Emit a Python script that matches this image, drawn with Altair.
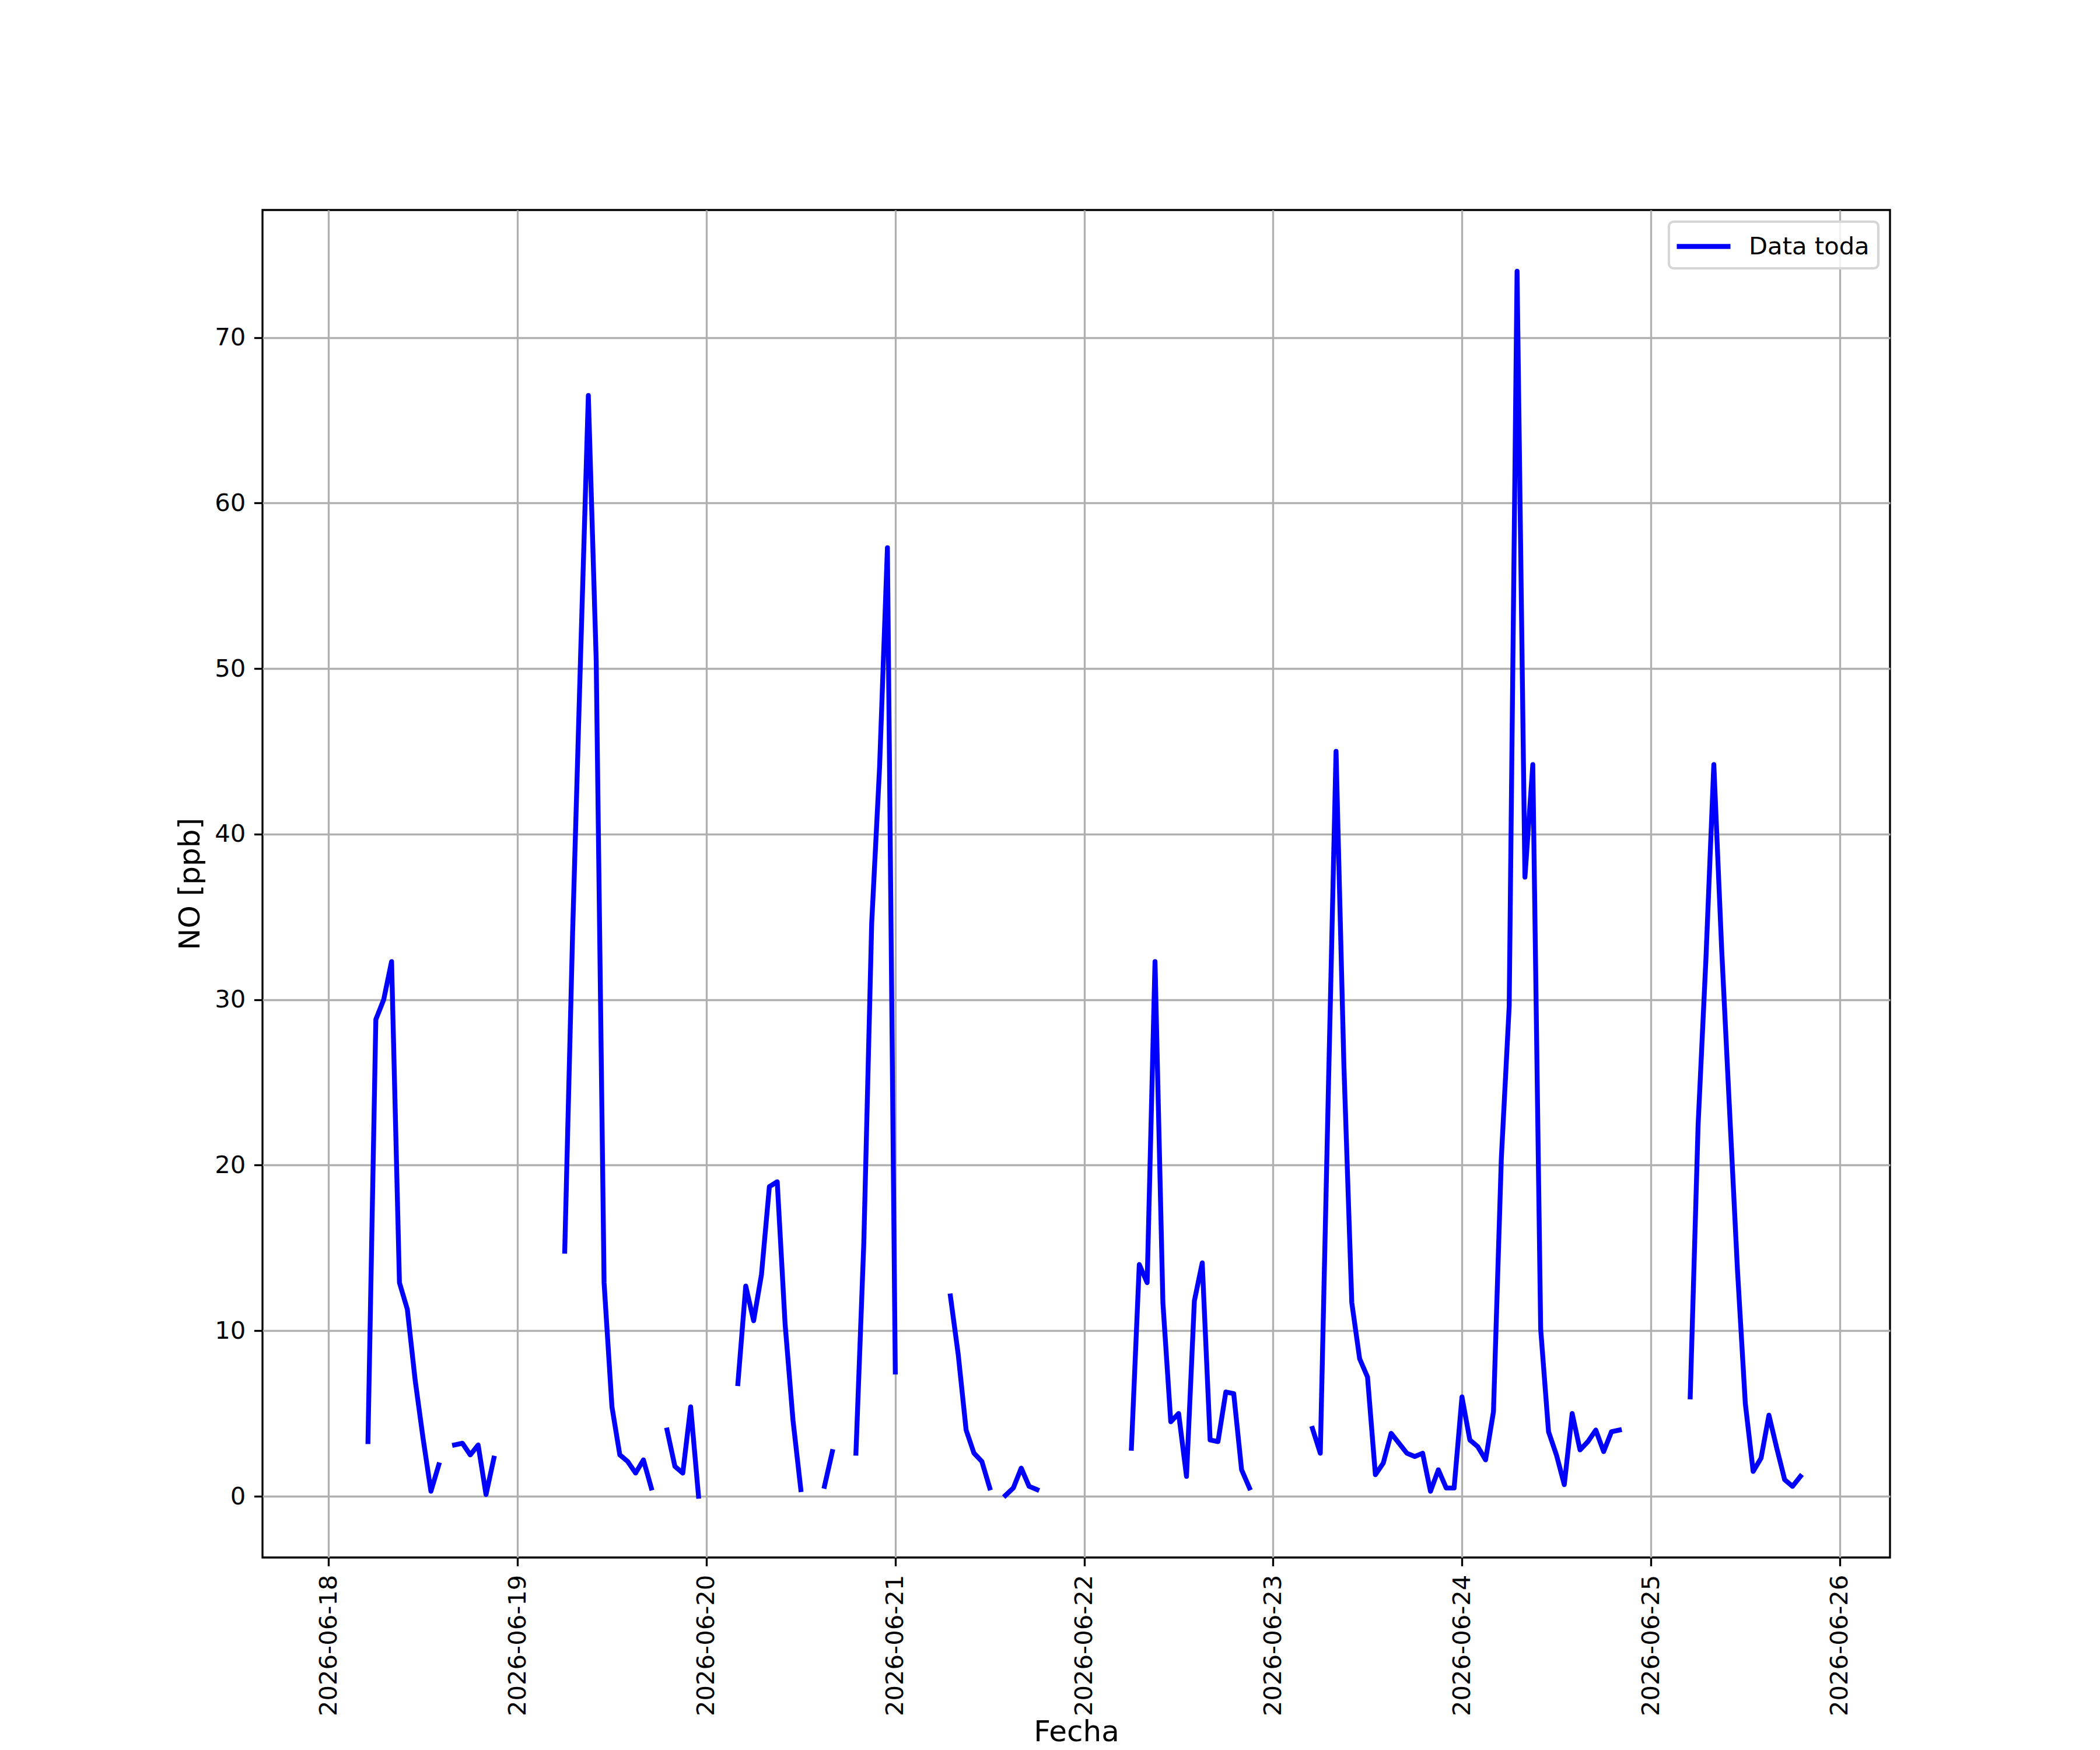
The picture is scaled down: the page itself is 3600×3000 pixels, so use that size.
import altair as alt
import pandas as pd

N = None

# Hourly NO values [ppb], 00h..23h for each day (None = missing)
dias = ["2026-06-18", "2026-06-19", "2026-06-20", "2026-06-21",
        "2026-06-22", "2026-06-23", "2026-06-24", "2026-06-25"]

no_0618 = [N, N, N, N, N, 3.3, 28.8, 30.0, 32.3, 12.9, 11.3, 7.0,
           3.5, 0.3, 1.9, N, 3.1, 3.2, 2.5, 3.1, 0.1, 2.3, N, N]
no_0619 = [N, N, N, N, N, N, 14.8, 34.0, 50.5, 66.5, 50.5, 12.9,
           5.4, 2.5, 2.1, 1.4, 2.2, 0.5, N, 4.0, 1.8, 1.4, 5.4, 0.0]
no_0620 = [N, N, N, N, 6.8, 12.7, 10.6, 13.4, 18.7, 19.0, 10.4, 4.6,
           0.4, N, N, 0.6, 2.7, N, N, 2.6, 15.3, 34.6, 44.0, 57.3]
no_0621 = [7.5, N, N, N, N, N, N, 12.1, 8.55, 4.0, 2.6, 2.1,
           0.5, N, 0.05, 0.5, 1.7, 0.6, 0.4, N, N, N, N, N]
no_0622 = [N, N, N, N, N, N, 2.9, 14.0, 12.9, 32.3, 11.7, 4.5,
           5.0, 1.2, 11.8, 14.1, 3.4, 3.3, 6.3, 6.2, 1.6, 0.5, N, N]
no_0623 = [N, N, N, N, N, 4.1, 2.6, 24.0, 45.0, 26.0, 11.7, 8.3,
           7.2, 1.3, 2.0, 3.8, 3.2, 2.6, 2.4, 2.6, 0.3, 1.6, 0.5, 0.5]
no_0624 = [6.0, 3.4, 3.0, 2.2, 5.1, 20.4, 29.6, 74.0, 37.4, 44.2, 10.1, 3.9,
           2.5, 0.7, 5.0, 2.8, 3.3, 4.0, 2.7, 3.9, 4.0, N, N, N]
no_0625 = [N, N, N, N, N, 6.0, 22.4, 32.5, 44.2, 33.0, 23.3, 13.7,
           5.6, 1.5, 2.3, 4.9, 2.9, 1.0, 0.6, 1.2, N, N, N, N]

serie_nombre = "Data toda"
y_ticks = [0, 10, 20, 30, 40, 50, 60, 70]
x_tick_dias = [18, 19, 20, 21, 22, 23, 24, 25, 26]

valores = (no_0618 + no_0619 + no_0620 + no_0621 +
           no_0622 + no_0623 + no_0624 + no_0625)
tiempos = pd.date_range(dias[0], periods=len(valores), freq="h")

# break the line at missing values (like matplotlib NaN gaps)
rows = []
seg = 0
for t, v in zip(tiempos, valores):
    if v is None:
        seg += 1
        continue
    rows.append({"Fecha": t.strftime("%Y-%m-%dT%H:%M:%S"), "NO": v,
                 "seg": seg, "serie": serie_nombre})
df = pd.DataFrame(rows)

FS = 41.7
FS_TITLE = 50
LW = 3.33
LINE_W = 8.33

x_enc = alt.X(
    "Fecha:T",
    title="Fecha",
    scale=alt.Scale(domain=[
        alt.DateTime(year=2026, month=6, date=17, hours=15, minutes=36),
        alt.DateTime(year=2026, month=6, date=26, hours=6, minutes=23),
    ]),
    axis=alt.Axis(
        values=[alt.DateTime(year=2026, month=6, date=d) for d in x_tick_dias],
        format="%Y-%m-%d",
        formatType="time",
        labelAngle=270,
        labelOverlap=False,
        labelFlush=False,
        labelLimit=0,
        titleY=314,
        titleBaseline="alphabetic",
    ),
)
y_enc = alt.Y(
    "NO:Q",
    title="NO [ppb]",
    scale=alt.Scale(domain=[-3.7, 77.7], nice=False, zero=False),
    axis=alt.Axis(values=y_ticks, format="d", labelOverlap=False,
                  labelFlush=False, labelLimit=0),
)

chart = (
    alt.Chart(df)
    .mark_line(strokeWidth=LINE_W, strokeCap="square", strokeJoin="round")
    .encode(
        x=x_enc,
        y=y_enc,
        detail="seg:N",
        color=alt.Color(
            "serie:N",
            scale=alt.Scale(domain=[serie_nombre], range=["#0000ff"]),
            legend=alt.Legend(
                title=None,
                orient="top-right",
                offset=20,
                padding=15,
                cornerRadius=8,
                strokeColor="#d6d6d6",
                fillColor="rgba(255,255,255,0.8)",
                symbolType="M-2,0H2",
                symbolSize=2116,
                symbolOffset=17,
                symbolStrokeWidth=LINE_W,
                labelOffset=50,
                labelFontSize=FS,
                labelFont="DejaVu Sans",
                labelColor="black",
                labelLimit=0,
            ),
        ),
    )
    .properties(
        width=2790,
        height=2310,
        autosize=alt.AutoSizeParams(type="none"),
        padding={"left": 442, "top": 352, "right": 352, "bottom": 330},
    )
    .configure(font="DejaVu Sans")
    .configure_view(stroke="black", strokeWidth=LW)
    .configure_legend(strokeWidth=4.17)
    .configure_axis(
        domain=False,
        grid=True,
        gridColor="#b0b0b0",
        gridWidth=LW,
        ticks=True,
        tickColor="black",
        tickWidth=LW,
        tickSize=14.6,
        labelFont="DejaVu Sans",
        labelFontSize=FS,
        labelColor="black",
        labelPadding=14.6,
        titleFont="DejaVu Sans",
        titleFontSize=FS_TITLE,
        titleFontWeight="normal",
        titleColor="black",
        titlePadding=16.7,
    )
)

chart.save("out.html", embed_options={"renderer": "svg", "actions": False})
